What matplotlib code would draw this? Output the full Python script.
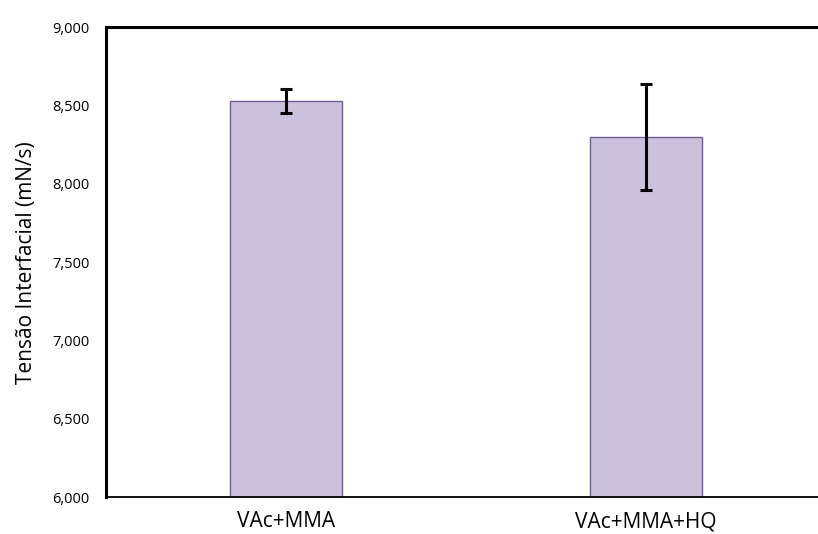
import matplotlib
matplotlib.use("Agg")
import matplotlib.pyplot as plt
from matplotlib.ticker import FuncFormatter

categories = ["VAc+MMA", "VAc+MMA+HQ"]
values = [8528, 8300]
errors = [75, 338]
yticks = [6000, 6500, 7000, 7500, 8000, 8500, 9000]

plt.rcParams['font.family'] = ['Open Sans', 'DejaVu Sans']

fig = plt.figure(figsize=(8.18, 5.34), dpi=100)
W, H = 818, 534
left, right, top, bottom = 106, 826, 27.3, 497.3
ax = fig.add_axes([left / W, 1 - bottom / H, (right - left) / W, (bottom - top) / H])

x = list(range(len(categories)))
ax.bar(x, values, width=0.311, color="#CBC1DC", edgecolor="#6E5E92", linewidth=1.0, zorder=2)
ax.errorbar(x, values, yerr=errors, fmt="none", ecolor="black", elinewidth=2.2,
            capsize=4, capthick=2.2, zorder=3)

ax.set_xlim(-0.5, 1.5)
ax.set_ylim(6000, 9000)
ax.set_yticks(yticks)
ax.yaxis.set_major_formatter(FuncFormatter(lambda v, p: f"{int(v):,}"))
ax.set_xticks(x)
ax.set_xticklabels(categories, fontsize=15)
ax.tick_params(axis="y", labelsize=10.5, length=0, pad=12)
ax.tick_params(axis="x", length=0, pad=10)
ax.set_ylabel("Tensão Interfacial (mN/s)", fontsize=15, labelpad=11)

ax.spines["left"].set_linewidth(2.2)
ax.spines["top"].set_linewidth(2.2)
ax.spines["bottom"].set_linewidth(1.3)
ax.spines["right"].set_visible(False)

fig.savefig("out.png", dpi=100)
